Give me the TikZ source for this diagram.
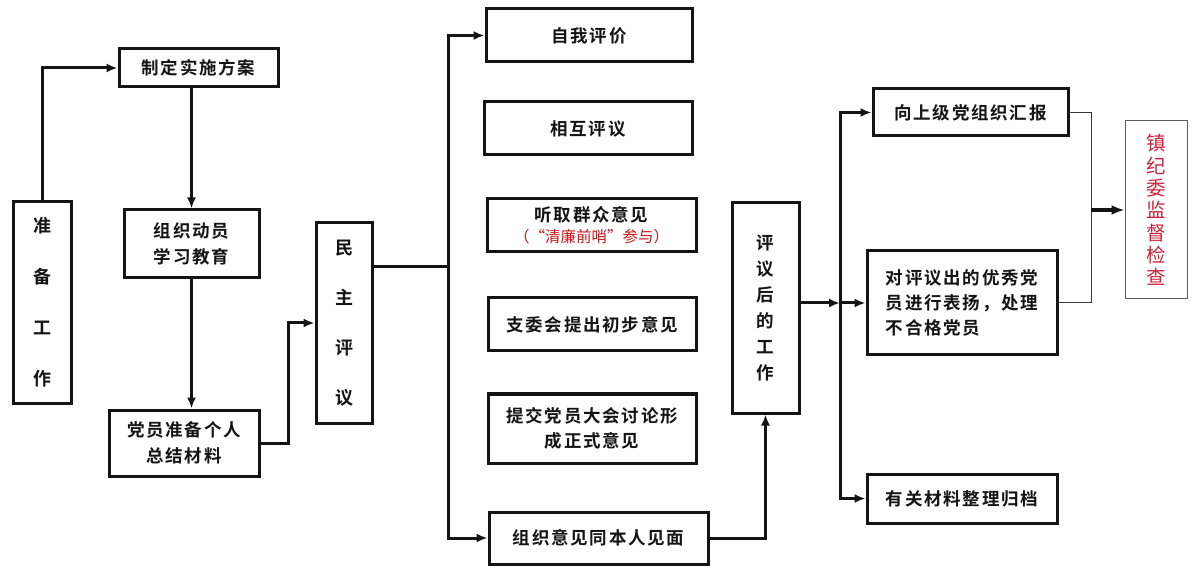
\documentclass[tikz,border=0pt]{standalone}
\usepackage{fontspec}
\newfontfamily\cjkb{Noto Sans CJK SC}[UprightFont=* Bold, LetterSpace=10]
\newfontfamily\cjkr{Noto Sans CJK SC}
\usetikzlibrary{arrows.meta}
\definecolor{ink}{RGB}{20,20,20}
\definecolor{redA}{RGB}{205,20,25}
\definecolor{redB}{RGB}{205,35,60}
\begin{document}
\begin{tikzpicture}[x=1pt,y=-1pt,
  box/.style={draw=ink, line width=3pt, inner sep=0pt, align=center, text=ink,
              font=\cjkb\fontsize{17.5}{26}\selectfont},
  conn/.style={draw=ink, line width=3pt},
  arr/.style={conn, -{Latex[length=11pt,width=9pt]}},
  thinl/.style={draw=ink!85, line width=1pt},
  bigarr/.style={draw=ink, line width=3.5pt, -{Latex[length=13pt,width=10pt]}},
  redbox/.style={draw=ink!70, line width=1pt, inner sep=0pt, align=center, text=redB,
              font=\cjkr\fontsize{19.5}{22.3}\selectfont}]
\path[fill=white] (0,0) rectangle (1200,577);
\useasboundingbox (0,0) rectangle (1200,577);

% nodes
\node[box, minimum width=58pt, minimum height=201pt,
      font=\cjkb\fontsize{18}{51}\selectfont] (zhunbei) at (42,302.5) {准\\备\\工\\作};
\node[box, minimum width=159pt, minimum height=38pt] (zhiding) at (198.5,68) {制定实施方案};
\node[box, minimum width=135pt, minimum height=68pt] (zuzhi) at (191.5,244) {组织动员\\学习教育};
\node[box, minimum width=150pt, minimum height=66pt] (dangyuan) at (184,443) {党员准备个人\\总结材料};
\node[box, minimum width=56pt, minimum height=200pt,
      font=\cjkb\fontsize{18}{50}\selectfont] (minzhu) at (344,323) {民\\主\\评\\议};

\node[box, minimum width=206pt, minimum height=53pt] (ziwo) at (589,35.5) {自我评价};
\node[box, minimum width=208pt, minimum height=53pt] (xianghu) at (588,128.5) {相互评议};
\node[box, minimum width=209pt, minimum height=53pt,
      font=\cjkb\fontsize{17.5}{21}\selectfont] (tingqu) at (591.5,225.5)
      {听取群众意见\\{\cjkr\color{redA}\fontsize{15.5}{18}\selectfont （“清廉前哨”参与）}};
\node[box, minimum width=208pt, minimum height=53pt] (zhiwei) at (592,324.5) {支委会提出初步意见};
\node[box, minimum width=208pt, minimum height=69pt,
      font=\cjkb\fontsize{17.5}{25}\selectfont] (tijiao) at (592,428.5) {提交党员大会讨论形\\成正式意见};
\node[box, minimum width=219pt, minimum height=52pt] (yijian) at (598.5,538) {组织意见同本人见面};

\node[box, minimum width=67pt, minimum height=210pt,
      font=\cjkb\fontsize{17.5}{26}\selectfont] (pingyi) at (765.5,308) {评\\议\\后\\的\\工\\作};

\node[box, minimum width=195pt, minimum height=47pt] (xiang) at (970.5,112.5) {向上级党组织汇报};
\node[box, minimum width=190pt, minimum height=104pt, align=left,
      font=\cjkb\fontsize{17.5}{25}\selectfont] (dui) at (962,303) {对评议出的优秀党\\员进行表扬，处理\\不合格党员};
\node[box, minimum width=190pt, minimum height=49pt] (youguan) at (962,498.5) {有关材料整理归档};

\node[redbox, minimum width=62pt, minimum height=178pt] (zhen) at (1156,210) {镇\\纪\\委\\监\\督\\检\\查};

% coordinates for junctions
\coordinate (t1) at (448,267);
\coordinate (t2) at (840,303);
\coordinate (t3) at (1091,210);

% connectors
\draw[arr] (zhunbei.north) |- (zhiding.west);
\draw[arr] (zuzhi.north |- zhiding.south) -- (zuzhi.north);
\draw[arr] (zuzhi.south) -- (zuzhi.south |- dangyuan.north);
\draw[arr] (dangyuan.east) -- ++(28,0) |- (minzhu.west);

\draw[conn] (minzhu.east |- t1) -- (t1);
\draw[arr] (t1) |- (ziwo.west);
\draw[arr] (t1) |- (yijian.west);

\draw[arr] (yijian.east) -| (pingyi.south);

\draw[arr] (pingyi.east |- t2) -- (t2);
\draw[arr] (t2) -- (dui.west);
\draw[arr] (t2) |- (xiang.west);
\draw[arr] (t2) |- (youguan.west);

\draw[thinl] (xiang.east) -| (t3) |- (dui.east);
\draw[bigarr] (t3) -- (zhen.west);
\end{tikzpicture}
\end{document}
